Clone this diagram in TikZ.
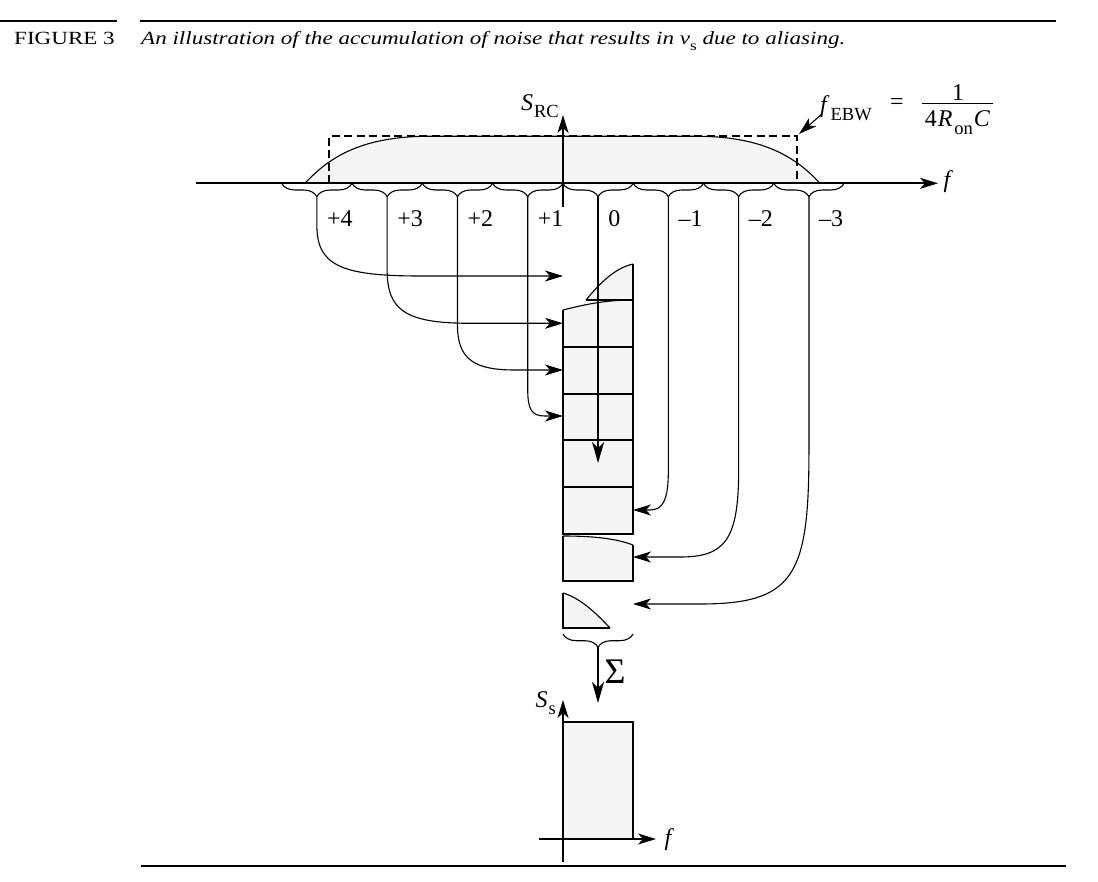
\documentclass[tikz,border=0pt]{standalone}
\usepackage{fontspec}
\setmainfont{Liberation Serif}
\newfontfamily\capfont[FakeStretch=1.24]{Liberation Serif}
\usetikzlibrary{arrows.meta,decorations.pathreplacing,calc}
\definecolor{fillg}{RGB}{245,245,245}
\newcommand\fsz[1]{\fontsize{#1}{#1}\selectfont}
\newcommand\sbs[1]{\raisebox{-0.3em}{\fsz{18.5}#1}}
\tikzset{
 thk/.style={line width=1.8pt},
 thn/.style={line width=1.1pt},
 arr/.style={-{Stealth[length=18pt,width=11pt,inset=5pt]}},
 arrb/.style={-{Stealth[length=21pt,width=12pt,inset=6pt]}},
 lbl/.style={font=\fsz{24}, inner sep=0pt},
 brc/.style={thn, decorate, decoration={brace,amplitude=13.4pt,mirror}},
}
\begin{document}
\begin{tikzpicture}[x=1pt,y=-1pt]
\useasboundingbox (0,0) rectangle (1098,882);
% rules and caption
\draw[line width=1.3pt] (0,21) -- (117,21) (140,21) -- (1056,21);
\draw[line width=1.3pt] (141,866) -- (1066,866);
\node[anchor=base west, font=\capfont\fsz{18.6}, inner sep=0pt] (fig) at (14,45) {FIGURE 3};
\node[anchor=base west, font=\capfont\fsz{18.6}\itshape, inner sep=0pt] (cap) at (141,45) {An illustration of the accumulation of noise that results in v\raisebox{-0.3em}{\upshape\fsz{14}s} due to aliasing.};
% spectrum S_RC
\fill[fillg] (305,183.3) .. controls (325,162) and (355,137) .. (425,136.3) -- (700,136.3) .. controls (770,137) and (800,162) .. (820,183.3) -- cycle;
\draw[thn] (305,183.3) .. controls (325,162) and (355,137) .. (425,136.3) -- (700,136.3) .. controls (770,137) and (800,162) .. (820,183.3);
\draw[thk, dash pattern=on 8pt off 4.5pt] (329,183.3) -- (329,136) -- (797,136) -- (797,183.3);
\draw[thk, arr] (196,183.3) -- (938,183.3);
\node[lbl, font=\fsz{24}\itshape] (f1) at (947,182) {f};
\draw[thk, arr] (563,207) -- (563,115);
\node[lbl, anchor=east] (src) at (559,106) {\textit{S}\kern1pt\sbs{RC}};
% f_EBW annotation
\node[lbl, anchor=base west] (febw) at (820,113) {\textit{f}\kern1pt\sbs{EBW}};
\node[lbl] (eq) at (897,104) {=};
\node[lbl, anchor=base] (num) at (958,101) {1};
\node[lbl, anchor=base] (den) at (957.5,127) {4\kern1pt\textit{R}\kern2pt\sbs{on}\kern1pt\textit{C}};
\draw[thn] (922,103.5) -- (993,103.5);
\coordinate (ebwfoot) at (822,114);
\coordinate (rectcorner) at (799,134);
\draw[thn, arr] (ebwfoot) -- (rectcorner);
% braces and labels
\foreach \i/\t in {0/+4,1/+3,2/+2,3/+1,4/0,5/–1,6/–2,7/–3}{
  \pgfmathsetmacro\xa{281.7+70.3*\i}
  \pgfmathsetmacro\xb{\xa+70.3}
  \pgfmathsetmacro\xc{\xa+35.15}
  \draw[brc] (\xa,183.3) -- (\xb,183.3);
  \coordinate (t\i) at (\xc,196.7);
  \node[lbl, anchor=west] (l\i) at (\xc+10,219) {\t};
}
% target coordinates
\coordinate (a0) at (563,276);
\coordinate (a1) at (563,323.3);
\coordinate (a2) at (563,370);
\coordinate (a3) at (563,416);
\coordinate (a4) at (598.05,463);
\coordinate (a5) at (633,510);
\coordinate (a6) at (633,557);
\coordinate (a7) at (633,604);
% boxes (stacked aliases)
\fill[fillg] (586,300) .. controls (600,283) and (615,268) .. (633,264) -- (633,300) -- cycle;
\draw[thn] (586,300) .. controls (600,283) and (615,268) .. (633,264);
\fill[fillg] (563,310) .. controls (590,303) and (610,300) .. (633,300) -- (633,534) -- (563,534) -- cycle;
\draw[thn] (563,310) .. controls (590,303) and (610,300) .. (633,300);
\draw[thk] (586,300) -- (633,300);
\draw[thk] (633,264) -- (633,534) -- (563,534) -- (563,310);
\foreach \yy in {347.3,394,440,486.7}{\draw[thk] (563,\yy) -- (633,\yy);}
\fill[fillg] (563,536) .. controls (590,536) and (615,538) .. (633,545) -- (633,581) -- (563,581) -- cycle;
\draw[thn] (563,536) .. controls (590,536) and (615,538) .. (633,545);
\draw[thk] (633,545) -- (633,581) -- (563,581) -- (563,536);
\fill[fillg] (563,593) .. controls (580,598) and (595,612) .. (610,628) -- (563,628) -- cycle;
\draw[thn] (563,593) .. controls (580,598) and (595,612) .. (610,628);
\draw[thk] (610,628) -- (563,628) -- (563,593);
% connectors
\draw[thn, arr] (t0) -- (t0|-0,225) .. controls (316.85,265) and (340,276) .. (420,276) -- (a0);
\draw[thn, arr] (t1) -- (t1|-0,270) .. controls (387.15,310) and (405,323.3) .. (470,323.3) -- (a1);
\draw[thn, arr] (t2) -- (t2|-0,325) .. controls (457.45,360) and (475,370) .. (515,370) -- (a2);
\draw[thn, arr] (t3) -- (t3|-0,390) .. controls (527.75,410) and (532,416) .. (545,416) -- (a3);
\draw[thk, arrb] (t4) -- (a4);
\draw[thn, arr] (t5) -- (t5|-0,470) .. controls (668.35,500) and (663,510) .. (650,510) -- (a5);
\draw[thn, arr] (t6) -- (t6|-0,470) .. controls (738.65,540) and (725,557) .. (680,557) -- (a6);
\draw[thn, arr] (t7) -- (t7|-0,450) .. controls (808.95,575) and (795,604) .. (700,604) -- (a7);
% sum
\draw[brc] (563,634) -- (633,634);
\coordinate (bt) at (598,647.4);
\coordinate (st) at (598,703);
\draw[thk, arrb] (bt) -- (st);
\node[inner sep=0pt, font=\fsz{36}] (sig) at (615,672) {Σ};
% S_s spectrum
\fill[fillg] (563,721.7) rectangle (633,839);
\draw[thk] (563,721.7) -- (633,721.7) -- (633,839);
\draw[thk, arr] (563,862) -- (563,700);
\draw[thk, arr] (539,839) -- (656,839);
\node[lbl, anchor=east] (ss) at (556,703) {\textit{S}\kern1pt\sbs{s}};
\node[lbl, font=\fsz{24}\itshape] (f2) at (668,840) {f};
\end{tikzpicture}
\end{document}
